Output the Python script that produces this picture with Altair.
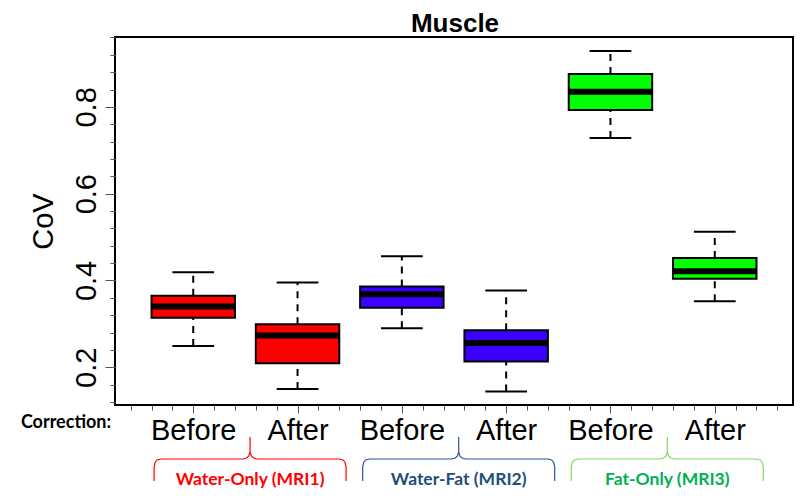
import altair as alt
import pandas as pd
import numpy as np

# ---- data ----
corrections = ["Before", "After", "Before", "After", "Before", "After"]
groups = ["Water-Only (MRI1)", "Water-Only (MRI1)", "Water-Fat (MRI2)",
          "Water-Fat (MRI2)", "Fat-Only (MRI3)", "Fat-Only (MRI3)"]
positions = [1, 2, 3, 4, 5, 6]
whisker_low = [0.249, 0.150, 0.290, 0.144, 0.728, 0.352]
q1 = [0.314, 0.209, 0.337, 0.213, 0.793, 0.404]
median = [0.340, 0.273, 0.368, 0.256, 0.835, 0.421]
q3 = [0.365, 0.299, 0.386, 0.285, 0.876, 0.452]
whisker_high = [0.419, 0.395, 0.456, 0.377, 0.929, 0.512]

group_names = ["Water-Only (MRI1)", "Water-Fat (MRI2)", "Fat-Only (MRI3)"]
box_colors = ["#FF0000", "#3B00FF", "#00FF00"]
label_colors = ["#FF0000", "#1F4E79", "#00B050"]
brace_colors = ["#FF0000", "#2F5597", "#7FDB5A"]

title_text = "Muscle"
y_title = "CoV"
correction_label = "Correction:"

# ---- layout constants ----
W, H = 678, 368
X0, X1 = 0.25, 6.75
Y0, Y1 = 0.113, 0.961
FONT = "Liberation Sans"

def dx(px):
    return px * (X1 - X0) / W

def dy_below(px):
    return Y0 - px * (Y1 - Y0) / H

def dy_above(px):
    return Y1 + px * (Y1 - Y0) / H

df = pd.DataFrame({
    "pos": positions, "corr": corrections, "group": groups,
    "lo": whisker_low, "q1": q1, "med": median, "q3": q3, "hi": whisker_high,
})

xscale = alt.Scale(domain=[X0, X1], nice=False, zero=False)
yscale = alt.Scale(domain=[Y0, Y1], nice=False, zero=False)

x_ticks = [round(0.4 + 0.2 * i, 1) for i in range(32)]
y_ticks = [round(0.12 + 0.04 * i, 2) for i in range(22)]
x_major = "abs(datum.value - round(datum.value)) < 0.001"
y_major = "abs(datum.value*5 - round(datum.value*5)) < 0.001"
lab_arr = "[" + ",".join("'%s'" % c for c in corrections) + "]"

xaxis = alt.Axis(
    values=x_ticks, title=None, domain=False, grid=False,
    tickSize={"condition": {"test": x_major, "value": 8}, "value": 5},
    tickColor="#555", tickWidth=1,
    labelExpr=f"{x_major} ? {lab_arr}[round(datum.value)-1] : ''",
    labelFont=FONT, labelFontSize=29, labelColor="black",
    labelOverlap=False, labelFlush=False, labelPadding=26,
    labelBaseline="alphabetic",
)
yaxis = alt.Axis(
    values=y_ticks, title=y_title, domain=False, grid=False,
    tickSize={"condition": {"test": y_major, "value": 10}, "value": 5},
    tickColor="#555", tickWidth=1,
    labelExpr=f"{y_major} ? format(datum.value, '.1f') : ''",
    labelFont=FONT, labelFontSize=29, labelColor="black",
    labelAngle=270, labelAlign="center", labelBaseline="alphabetic",
    labelOverlap=False, labelFlush=False, labelPadding=10,
    titleFont=FONT, titleFontSize=29, titleFontWeight="normal",
    titleColor="black", titleAngle=270, titleX=-63, titleY=H / 2,
    titleAlign="center", titleBaseline="alphabetic",
)

base = alt.Chart(df).transform_calculate(
    left="datum.pos - 0.4", right="datum.pos + 0.4",
    capL="datum.pos - 0.2", capR="datum.pos + 0.2",
)

X = lambda f: alt.X(f, scale=xscale, axis=xaxis)
Y = lambda f: alt.Y(f, scale=yscale, axis=yaxis)

whisk_up = base.mark_rule(color="black", strokeWidth=2, strokeDash=[7, 6]).encode(
    x=X("pos:Q"), y=Y("q3:Q"), y2="hi:Q")
whisk_dn = base.mark_rule(color="black", strokeWidth=2, strokeDash=[7, 6]).encode(
    x=X("pos:Q"), y=Y("lo:Q"), y2="q1:Q")
cap_hi = base.mark_rule(color="black", strokeWidth=2).encode(
    x=X("capL:Q"), x2="capR:Q", y=Y("hi:Q"))
cap_lo = base.mark_rule(color="black", strokeWidth=2).encode(
    x=X("capL:Q"), x2="capR:Q", y=Y("lo:Q"))
boxes = base.mark_bar(stroke="black", strokeWidth=2).encode(
    x=X("left:Q"), x2="right:Q", y=Y("q1:Q"), y2="q3:Q",
    color=alt.Color("group:N", scale=alt.Scale(domain=group_names, range=box_colors), legend=None))
meds = base.mark_rule(color="black", strokeWidth=6).encode(
    x=X("left:Q"), x2="right:Q", y=Y("med:Q"))

layers = [whisk_up, whisk_dn, cap_hi, cap_lo, boxes, meds]

# braces (shape in pixel offsets, converted to data units)
half = 96
brace_shape = [(-half, 76), (-half, 62), (-half + 1, 57.5), (-half + 3, 55), (-half + 7, 54),
               (-7, 54), (-3.5, 53), (-1.2, 51), (0, 47), (0, 32),
               (0, 47), (1.2, 51), (3.5, 53), (7, 54),
               (half - 7, 54), (half - 3, 55), (half - 1, 57.5), (half, 62), (half, 76)]
for k, g in enumerate(group_names):
    c = positions[2 * k] + 0.5 + 0.045
    bdf = pd.DataFrame({
        "bx": [c + dx(p[0]) for p in brace_shape],
        "by": [dy_below(p[1]) for p in brace_shape],
        "o": list(range(len(brace_shape))),
    })
    layers.append(alt.Chart(bdf).mark_line(color=brace_colors[k], strokeWidth=1.2, clip=False).encode(
        x=X("bx:Q"), y=Y("by:Q"), order="o:Q"))
    tdf = pd.DataFrame({"tx": [c], "ty": [dy_below(80)], "t": [g]})
    layers.append(alt.Chart(tdf).mark_text(
        color=label_colors[k], font="Lato", fontWeight="bold", fontSize=17.5,
        align="center", baseline="alphabetic", clip=False).encode(
        x=X("tx:Q"), y=Y("ty:Q"), text="t:N"))

cdf = pd.DataFrame({"tx": [X0 - dx(115 - 66)], "ty": [dy_below(23)], "t": [correction_label]})
layers.append(alt.Chart(cdf).mark_text(
    color="black", font="Lato", fontWeight="bold", fontSize=18,
    align="center", baseline="alphabetic", clip=False).encode(
    x=X("tx:Q"), y=Y("ty:Q"), text="t:N"))

# chart title as text above the frame (kept inside the page's drawable area)
ttl = pd.DataFrame({"tx": [(X0 + X1) / 2 + dx(1)], "ty": [dy_above(5)], "t": [title_text]})
layers.append(alt.Chart(ttl).mark_text(
    color="black", font=FONT, fontWeight="bold", fontSize=26,
    align="center", baseline="alphabetic", clip=False).encode(
    x=X("tx:Q"), y=Y("ty:Q"), text="t:N"))

chart = alt.layer(*layers).properties(
    width=W, height=H,
    background="white",
    padding={"left": 107, "top": 29, "right": 1, "bottom": 84},
    autosize=alt.AutoSizeParams(type="none"),
).configure_view(stroke="black", strokeWidth=2)

chart.save("out.html", embed_options={"renderer": "svg", "actions": False})
